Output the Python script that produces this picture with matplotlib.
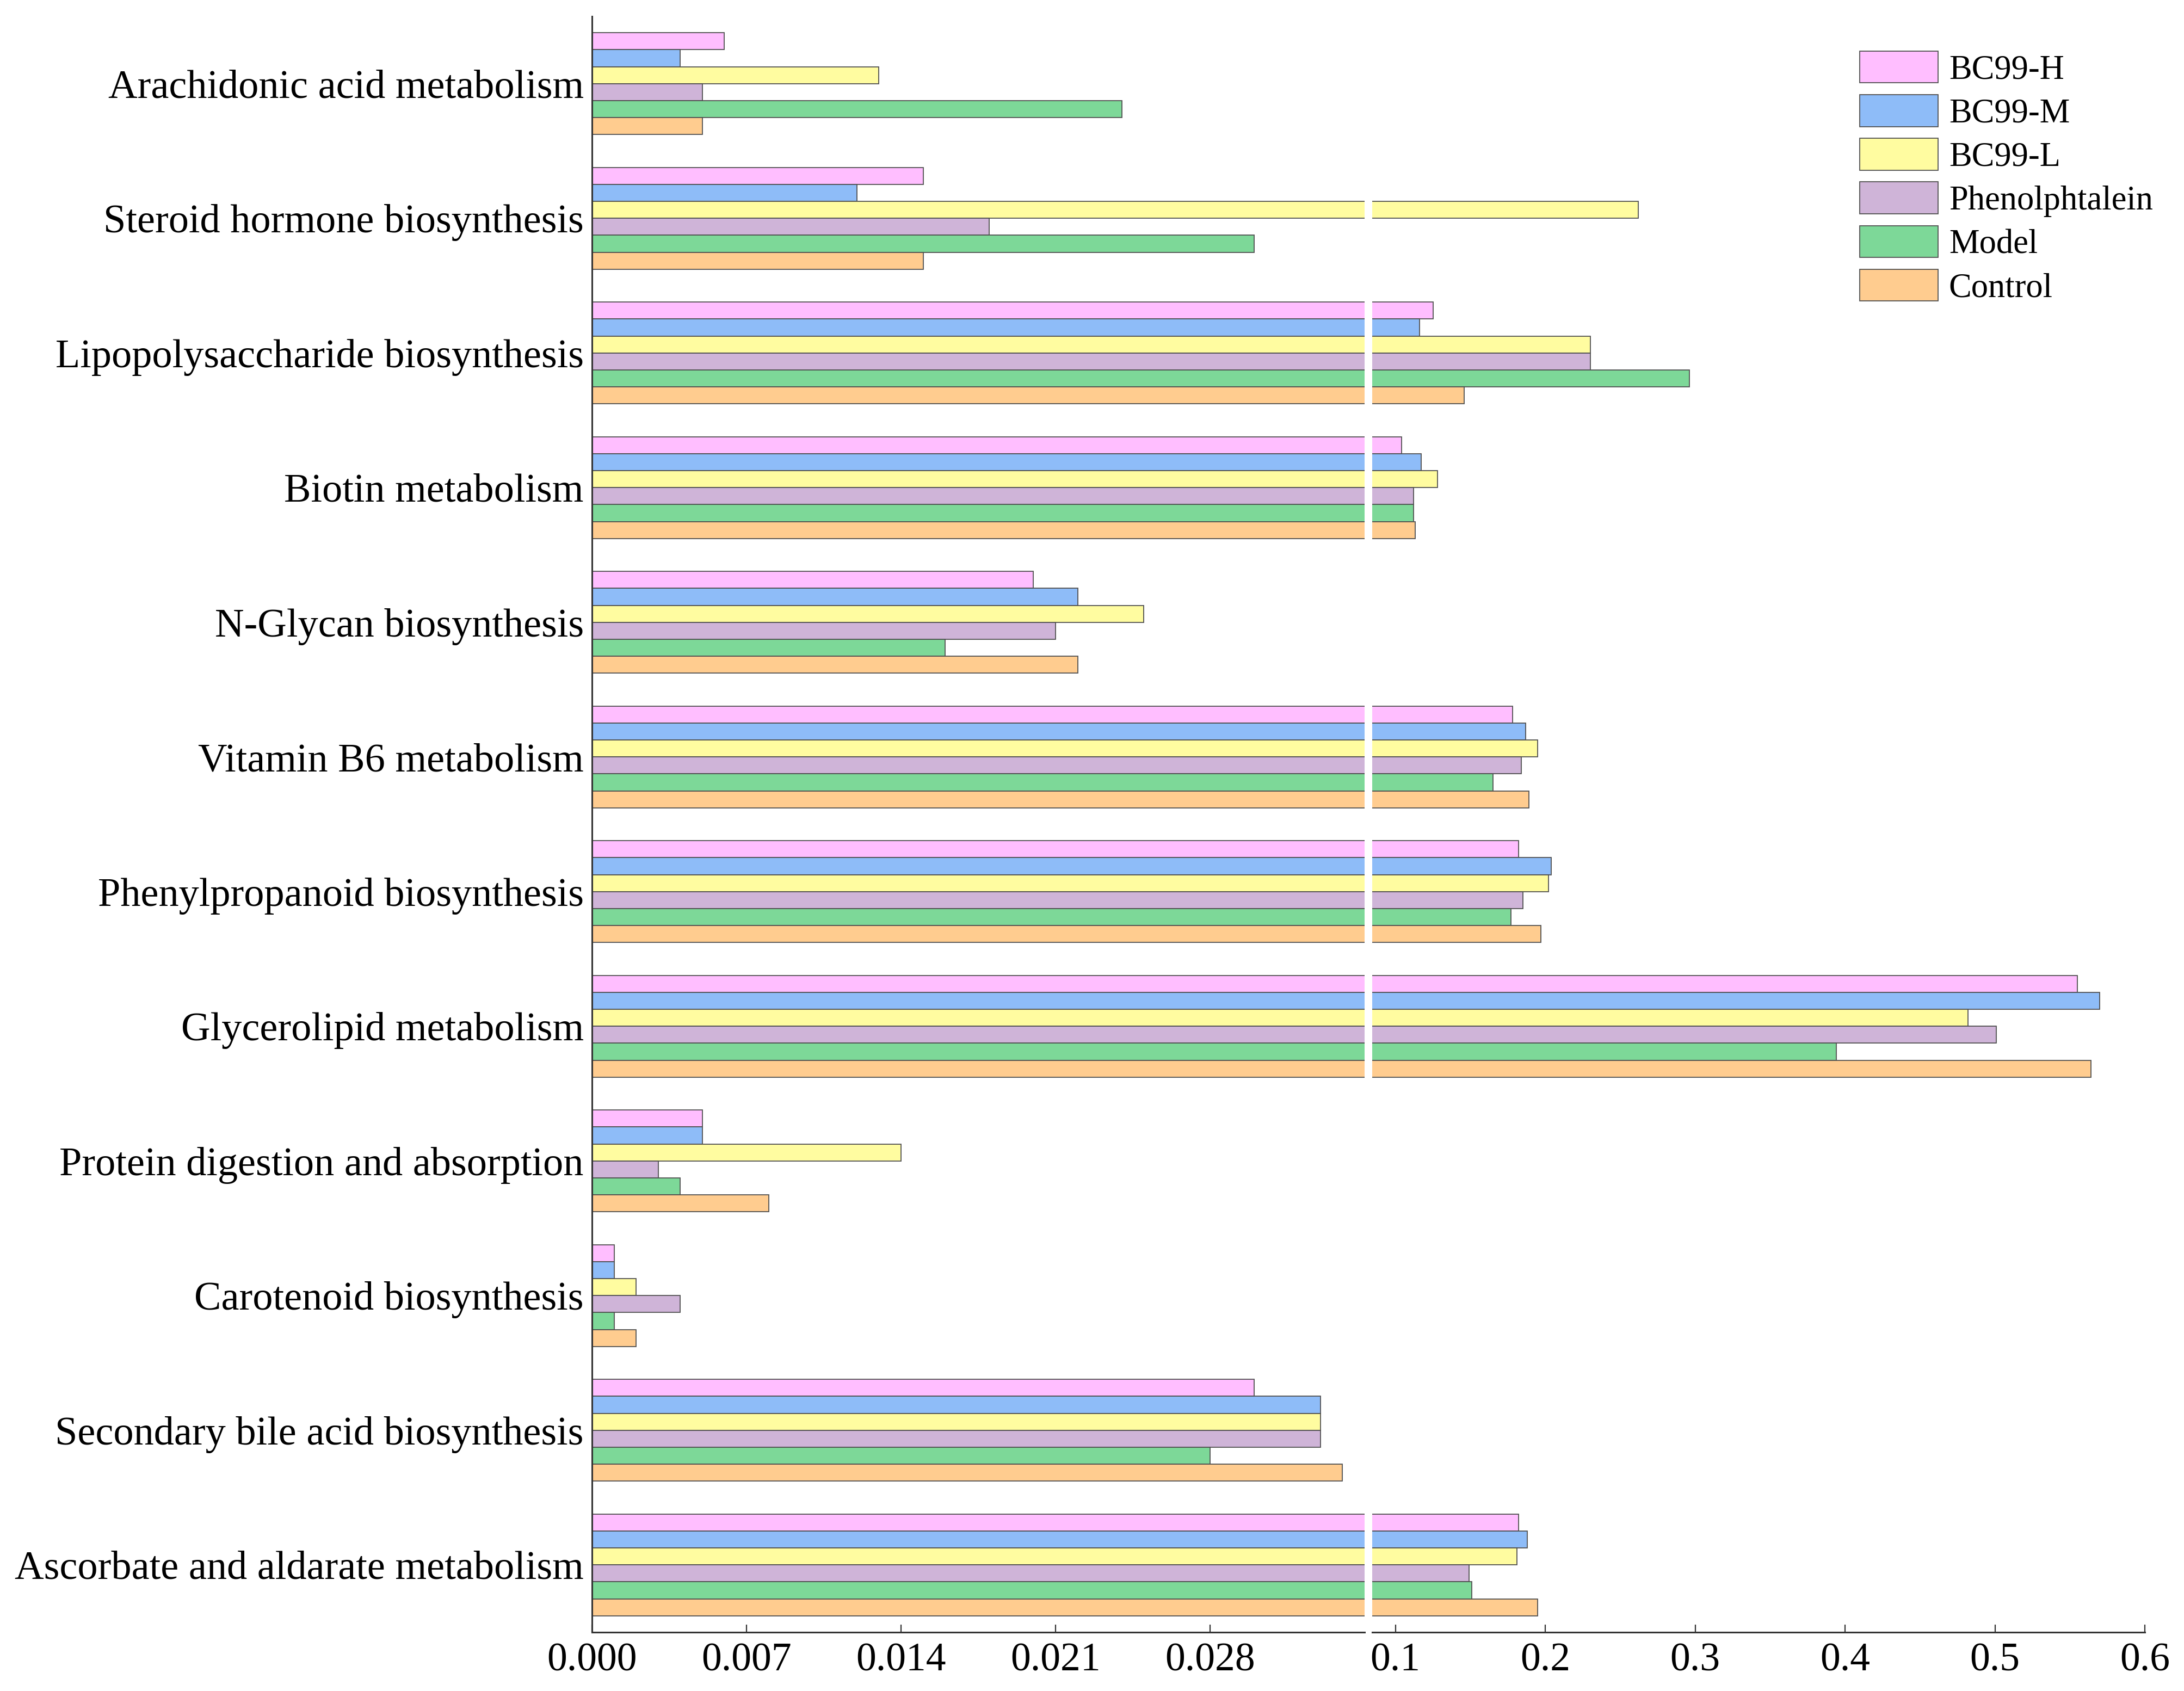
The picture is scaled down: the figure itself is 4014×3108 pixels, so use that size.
import matplotlib
matplotlib.use('Agg')
import matplotlib.pyplot as plt
from matplotlib.patches import Patch
import numpy as np

plt.rcParams['font.family'] = ['Liberation Serif', 'DejaVu Serif']

pathways = ['Arachidonic acid metabolism',
            'Steroid hormone biosynthesis',
            'Lipopolysaccharide biosynthesis',
            'Biotin metabolism',
            'N-Glycan biosynthesis',
            'Vitamin B6 metabolism',
            'Phenylpropanoid biosynthesis',
            'Glycerolipid metabolism',
            'Protein digestion and absorption',
            'Carotenoid biosynthesis',
            'Secondary bile acid biosynthesis',
            'Ascorbate and aldarate metabolism']

groups = ['BC99-H', 'BC99-M', 'BC99-L', 'Phenolphtalein', 'Model', 'Control']
colors = ['#FFBEFF', '#8EBCF8', '#FFFCA0', '#CFB4D8', '#7DD898', '#FFCC8F']

# values per group, same order as pathways (top to bottom)
bc99_h = [0.006, 0.015, 0.125, 0.104, 0.020, 0.178, 0.182, 0.555, 0.005, 0.001, 0.030, 0.182]
bc99_m = [0.004, 0.012, 0.116, 0.117, 0.022, 0.187, 0.204, 0.570, 0.005, 0.001, 0.033, 0.188]
bc99_l = [0.013, 0.262, 0.230, 0.128, 0.025, 0.195, 0.202, 0.482, 0.014, 0.002, 0.033, 0.181]
phenol = [0.005, 0.018, 0.230, 0.112, 0.021, 0.184, 0.185, 0.501, 0.003, 0.004, 0.033, 0.149]
model = [0.024, 0.030, 0.296, 0.112, 0.016, 0.165, 0.177, 0.394, 0.004, 0.001, 0.028, 0.151]
control = [0.005, 0.015, 0.146, 0.113, 0.022, 0.189, 0.197, 0.564, 0.008, 0.002, 0.034, 0.195]
series = [bc99_h, bc99_m, bc99_l, phenol, model, control]

left_ticks = [0.000, 0.007, 0.014, 0.021, 0.028]
right_ticks = [0.1, 0.2, 0.3, 0.4, 0.5, 0.6]

W, H = 4014, 3108
fig = plt.figure(figsize=(W / 100, H / 100), dpi=100)
bot = 108 / H
top = 30 / H
ax1 = fig.add_axes([1088 / W, bot, 1420 / W, 1 - bot - top])
ax2 = fig.add_axes([2522 / W, bot, 1420 / W, 1 - bot - top])

y = np.arange(len(pathways))
bh = 0.126
edge = '#505050'
for ax in (ax1, ax2):
    for j, vals in enumerate(series):
        ax.barh(y + (j - 2.5) * bh, vals, height=bh, color=colors[j],
                edgecolor=edge, linewidth=1.3)
    ax.set_ylim(len(pathways) - 0.5, -0.5)
    for s in ['top', 'right']:
        ax.spines[s].set_visible(False)
    ax.spines['bottom'].set_linewidth(2.2)
    ax.spines['bottom'].set_color('#333333')
    ax.tick_params(axis='x', direction='in', length=10, width=1.6,
                   color='#333333', labelsize=53, pad=14)

ax1.set_xlim(0, 0.035)
ax2.set_xlim(0.0845, 0.6)
ax1.set_xticks(left_ticks)
ax1.set_xticklabels(['%.3f' % t for t in left_ticks])
ax2.set_xticks(right_ticks)
ax2.set_xticklabels(['%.1f' % t for t in right_ticks])

ax1.spines['left'].set_linewidth(2.2)
ax1.spines['left'].set_color('#333333')
ax1.set_yticks(y)
ax1.set_yticklabels(pathways)
ax1.tick_params(axis='y', length=0, labelsize=53.5, pad=11)
ax2.spines['left'].set_visible(False)
ax2.set_yticks([])

handles = [Patch(facecolor=colors[j], edgecolor=edge, linewidth=1.3) for j in range(len(groups))]
fig.legend(handles, groups, loc='upper left', bbox_to_anchor=(3418 / W, 1 - 94 / H),
           frameon=False, prop={'family': 'Liberation Serif', 'size': 45},
           handlelength=2.3, handleheight=1.06,
           labelspacing=0.25, handletextpad=0.32, borderpad=0, borderaxespad=0)

fig.savefig('out.png', dpi=100)
